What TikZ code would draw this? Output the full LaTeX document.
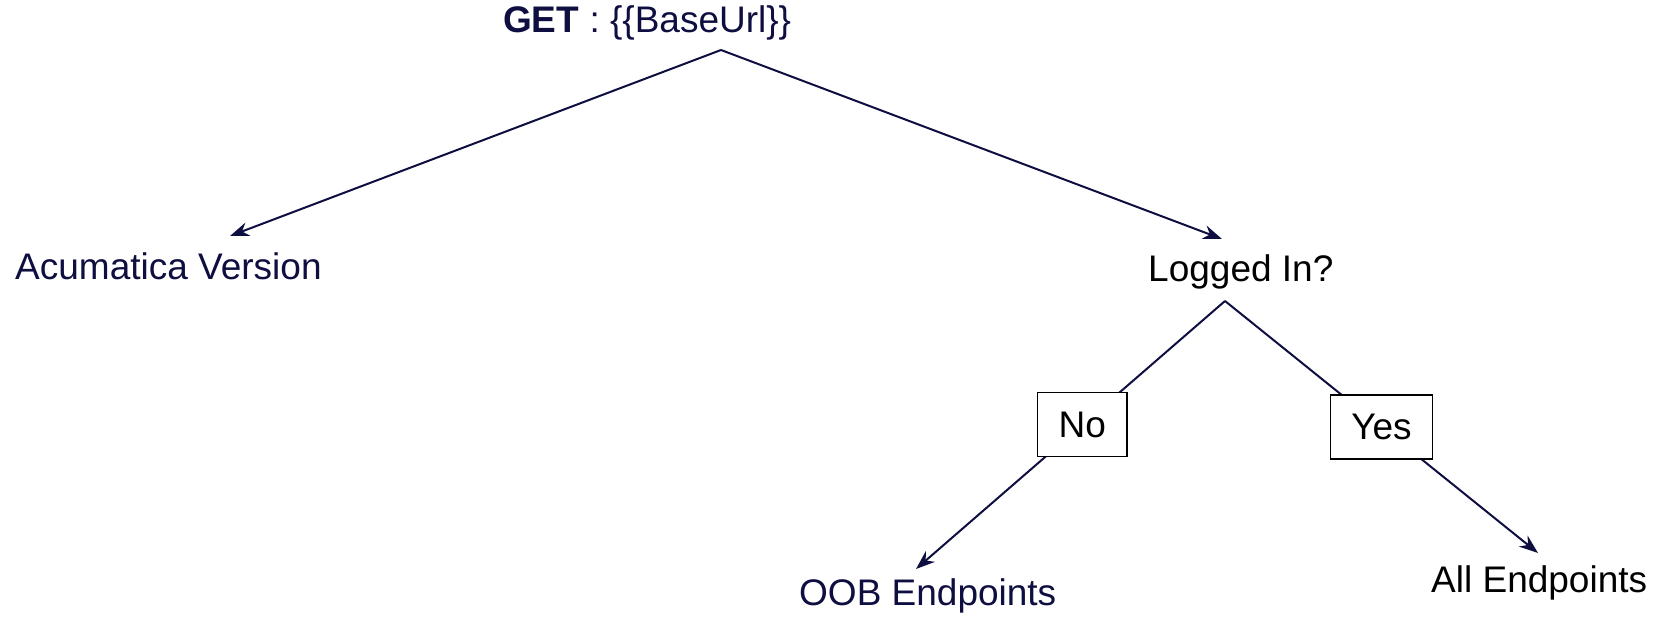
\documentclass[tikz,border=0pt]{standalone}
\usepackage{fontspec}
\setmainfont{Liberation Sans}
\usetikzlibrary{arrows.meta}
\definecolor{navy}{HTML}{0E0E40}
\tikzset{>={Stealth[length = 19pt, width = 14pt]}}
\tikzstyle{leaf} = [anchor = base west, inner sep = 0pt, font = \fontsize{37}{44}\selectfont]
\tikzstyle{choice} = [rectangle, text centered, draw = black, fill = white, text = black, line width = 1.3pt, minimum height = 64pt, inner xsep = 21pt, font = \fontsize{37}{44}\selectfont]
\tikzstyle{link} = [navy, line width = 2pt]

\begin{document}
\begin{tikzpicture}[x = 1pt, y = -1pt]
\useasboundingbox (0,0) rectangle (1660,617);

\node (getUrl) [leaf, text = navy] at (503,33) {\textbf{GET} : \{\{BaseUrl\}\}};
\node (acuVersion) [leaf, text = navy] at (15,280) {Acumatica Version};
\node (loggedIn) [leaf] at (1148,282) {Logged In?};
\node (oobEnd) [leaf, text = navy] at (799,605) {OOB Endpoints};
\node (allEnd) [leaf] at (1431,592) {All Endpoints};

\coordinate (getFoot) at (721,50);
\coordinate (acuTip) at (230,236);
\coordinate (loggedTip) at (1222,239);
\coordinate (loggedFoot) at (1225,301);
\coordinate (oobTip) at (916,569);
\coordinate (allTip) at (1538,553);

\draw [->, link] (getFoot) -- (acuTip);
\draw [->, link] (getFoot) -- (loggedTip);
\draw [->, link] (loggedFoot) -- node [choice, pos = 0.462] (noBox) {No} (oobTip);
\draw [->, link] (loggedFoot) -- node [choice, pos = 0.5] (yesBox) {Yes} (allTip);
\end{tikzpicture}
\end{document}
